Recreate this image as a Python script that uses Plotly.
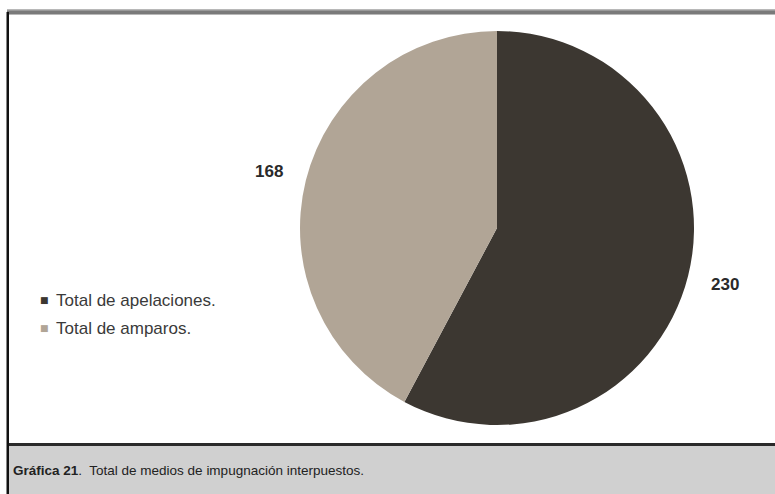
import math
import plotly.graph_objects as go

categories = ["Total de apelaciones.", "Total de amparos."]
values = [230, 168]
colors = ["#3c3731", "#b1a596"]
caption_bold = "Gráfica 21"
caption_text = ".  Total de medios de impugnación interpuestos."

W, H = 775, 494


def px(x):
    return x / W


def py(y):
    return 1 - y / H


# pie geometry (page pixels)
cx, cy, r = 497, 228, 197

fig = go.Figure()
fig.add_trace(go.Pie(
    labels=categories,
    values=values,
    marker=dict(colors=colors, line=dict(width=0)),
    sort=False,
    direction="clockwise",
    rotation=0,
    textinfo="none",
    hoverinfo="label+value",
    showlegend=False,
    domain=dict(x=[px(cx - r), px(cx + r)], y=[py(cy + r), py(cy - r)]),
))

annotations = []
# value labels positioned at mid-angle of each slice
total = sum(values)
start = 0.0
label_dist = 235
for v in values:
    frac = v / total
    mid = (start + frac / 2) * 2 * math.pi
    start += frac
    lx = cx + label_dist * math.sin(mid)
    ly = cy - label_dist * math.cos(mid)
    annotations.append(dict(
        x=px(lx), y=py(ly), xref="paper", yref="paper",
        text=f"<b>{v}</b>", showarrow=False,
        font=dict(family="Liberation Sans, Arial", size=17, color="#2a2a2a"),
        xanchor="center", yanchor="middle",
    ))

# legend built from categories
legend_y = [300, 328]
for cat, col, ly in zip(categories, colors, legend_y):
    annotations.append(dict(
        x=px(44), y=py(ly), xref="paper", yref="paper",
        text="■", showarrow=False,
        font=dict(family="DejaVu Sans", size=9, color=col),
        xanchor="center", yanchor="middle",
    ))
    annotations.append(dict(
        x=px(54), y=py(ly), xref="paper", yref="paper",
        text=cat, showarrow=False,
        font=dict(family="Liberation Sans, Arial", size=17, color="#3a3a3a"),
        xanchor="left", yanchor="middle",
    ))

# caption
annotations.append(dict(
    x=px(11), y=py(470), xref="paper", yref="paper",
    text=f"<b>{caption_bold}</b>{caption_text}", showarrow=False,
    font=dict(family="Liberation Sans, Arial", size=13.5, color="#222222"),
    xanchor="left", yanchor="middle",
))

shapes = [
    # caption background
    dict(type="rect", xref="paper", yref="paper", x0=px(8), x1=1, y0=0, y1=py(445),
         fillcolor="#d0d0d0", line=dict(width=0), layer="below"),
    # bottom separator line
    dict(type="rect", xref="paper", yref="paper", x0=px(8), x1=1, y0=py(446), y1=py(443),
         fillcolor="#2a2a2a", line=dict(width=0)),
    # top gray bar
    dict(type="rect", xref="paper", yref="paper", x0=px(7), x1=1, y0=py(15), y1=py(9),
         fillcolor="#b8b8b8", line=dict(width=0)),
    dict(type="rect", xref="paper", yref="paper", x0=px(7), x1=1, y0=py(14), y1=py(10.5),
         fillcolor="#7a7a7a", line=dict(width=0)),
    # left border
    dict(type="rect", xref="paper", yref="paper", x0=px(6.5), x1=px(9), y0=0, y1=py(12),
         fillcolor="#111111", line=dict(width=0)),
]

fig.update_layout(
    width=W, height=H,
    margin=dict(l=0, r=0, t=0, b=0),
    paper_bgcolor="white",
    plot_bgcolor="white",
    annotations=annotations,
    shapes=shapes,
)

fig.write_html(
    "out.html",
    config={"displayModeBar": False},
    post_script="document.body.style.margin='0';document.documentElement.style.overflow='hidden';",
)
